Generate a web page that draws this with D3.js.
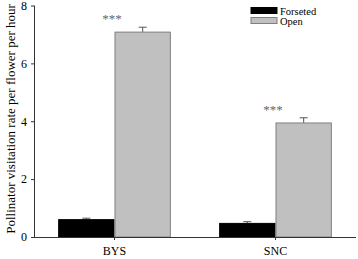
<html>
<head>
<style>
body { margin: 0; background: #fff; }
text { font-family: "Liberation Serif", "Times New Roman", serif; }
</style>
</head>
<body>
<svg width="358" height="259"></svg>
<script src="https://cdn.jsdelivr.net/npm/d3@7"></script>
<script>
var sites = ["BYS", "SNC"]
var treatments = ["Forseted", "Open"]
var forsetedMean = [0.6, 0.47]
var forsetedErr = [0.05, 0.06]
var openMean = [7.08, 3.94]
var openErr = [0.17, 0.18]
var signif = ["***", "***"]
var yTicks = [0, 2, 4, 6, 8]
var colors = ["#000000", "#c0c0c0"]
var strokes = ["#000000", "#7f7f7f"]

var svg = d3.select("svg")
var mLeft = 34, mRight = 356, mTop = 5.5, mBottom = 237

var x = d3.scaleBand().domain(sites).range([mLeft, mRight]).paddingInner(0.3).paddingOuter(0.15)
var sub = d3.scaleBand().domain(treatments).range([0, x.bandwidth()])
var y = d3.scaleLinear().domain([0, 8]).range([mBottom, mTop])

var rows = []
sites.forEach(function (s, i) {
	rows.push({ site: s, t: "Forseted", v: forsetedMean[i], e: forsetedErr[i], k: 0 })
	rows.push({ site: s, t: "Open", v: openMean[i], e: openErr[i], k: 1 })
})

// error bars (upper only)
var eb = svg.append("g").attr("stroke", "#555").attr("stroke-width", 1)
rows.forEach(function (d) {
	var cx = x(d.site) + sub(d.t) + sub.bandwidth() / 2
	eb.append("line").attr("x1", cx).attr("x2", cx).attr("y1", y(d.v)).attr("y2", y(d.v + d.e))
	eb.append("line").attr("x1", cx - 4).attr("x2", cx + 4).attr("y1", y(d.v + d.e)).attr("y2", y(d.v + d.e))
})

svg.append("g").selectAll("rect").data(rows).enter().append("rect")
	.attr("x", function (d) { return x(d.site) + sub(d.t) + 0.5 })
	.attr("y", function (d) { return y(d.v) })
	.attr("width", sub.bandwidth() - 1)
	.attr("height", function (d) { return y(0) - y(d.v) })
	.attr("fill", function (d) { return colors[d.k] })
	.attr("stroke", function (d) { return strokes[d.k] })
	.attr("stroke-width", 1)

// axes
var yAxis = svg.append("g").attr("transform", "translate(" + mLeft + ",0)")
	.call(d3.axisLeft(y).tickValues(yTicks).tickSize(3).tickPadding(4).tickFormat(d3.format("d")))
var xAxis = svg.append("g").attr("transform", "translate(0," + mBottom + ")")
	.call(d3.axisBottom(x).tickSize(3).tickPadding(6.5))
xAxis.select(".domain").attr("d", "M" + mLeft + ",0.5H" + mRight)
yAxis.select(".domain").attr("d", "M0.5," + mBottom + "V" + mTop)
svg.selectAll(".domain, .tick line").attr("stroke", "#333")
yAxis.selectAll("text").attr("font-size", 12).attr("font-family", "Liberation Serif").attr("fill", "#000")
xAxis.selectAll("text").attr("font-size", 12).attr("font-family", "Liberation Serif").attr("fill", "#000")

svg.append("text")
	.attr("transform", "translate(15,119) rotate(-90)")
	.attr("text-anchor", "middle")
	.attr("font-size", 13)
	.text("Pollinator visitation rate per flower per hour")

// significance stars, centred over each site group
svg.selectAll(".sig").data(sites).enter().append("text")
	.attr("class", "sig")
	.attr("x", function (d) { return x(d) + x.bandwidth() / 2 - 2.5 })
	.attr("y", function (d, i) { return y(openMean[i] + openErr[i]) - 4 })
	.attr("text-anchor", "middle")
	.attr("font-size", 13)
	.attr("fill", "#666")
	.text(function (d, i) { return signif[i] })

// legend
var lg = svg.append("g").attr("transform", "translate(251,7)")
treatments.forEach(function (t, i) {
	lg.append("rect").attr("x", 0).attr("y", i * 10 + 0.5).attr("width", 26).attr("height", 6)
		.attr("fill", colors[i]).attr("stroke", strokes[i])
	lg.append("text").attr("x", 29).attr("y", i * 10 + 7.5).attr("font-size", 10.5).text(t)
})
</script>
</body>
</html>
